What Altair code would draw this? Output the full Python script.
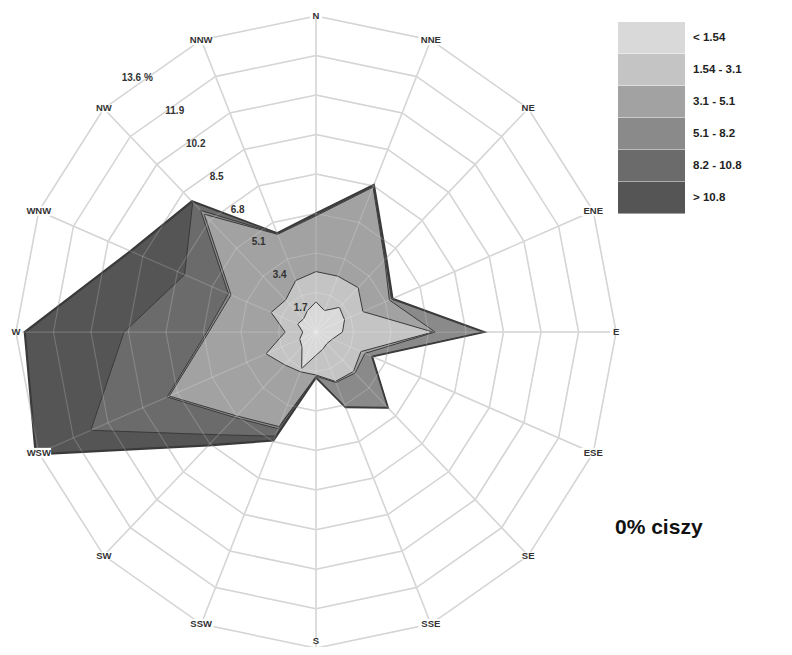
import altair as alt
import pandas as pd

directions = ["N", "NNE", "NE", "ENE", "E", "ESE", "SE", "SSE",
              "S", "SSW", "SW", "WSW", "W", "WNW", "NW", "NNW"]
classes = ["< 1.54", "1.54 - 3.1", "3.1 - 5.1", "5.1 - 8.2", "8.2 - 10.8", "> 10.8"]
colors = ["#d9d9d9", "#c4c4c4", "#a2a2a2", "#8a8a8a", "#6b6b6b", "#555555"]

# cumulative frequency (%) per direction, up to and including each speed class
cum_1 = [1.3, 1.0, 1.5, 1.4, 1.2, 0.8, 0.7, 0.8, 1.0, 1.7, 0.9, 0.8, 0.6, 0.9, 0.8, 1.0]
cum_2 = [2.6, 2.6, 2.7, 2.3, 5.3, 2.2, 2.4, 2.3, 1.85, 1.85, 2.0, 2.45, 1.4, 2.2, 1.95, 2.4]
cum_3 = [5.0, 6.75, 4.4, 3.6, 5.4, 2.4, 2.5, 2.35, 1.9, 4.4, 5.1, 7.2, 4.86, 4.17, 7.17, 4.55]
cum_4 = [5.05, 6.8, 4.45, 3.7, 7.55, 2.72, 4.58, 3.48, 1.92, 4.5, 5.2, 7.3, 4.95, 4.3, 7.4, 4.58]
cum_5 = [5.08, 6.83, 4.48, 3.73, 7.58, 2.74, 4.6, 3.5, 1.94, 4.85, 6.25, 11.05, 8.7, 6.45, 7.9, 4.6]
cum_6 = [5.1, 6.85, 4.5, 3.75, 7.6, 2.75, 4.6, 3.5, 1.95, 5.05, 6.9, 13.75, 13.2, 9.1, 7.95, 4.6]
cumulative = [cum_1, cum_2, cum_3, cum_4, cum_5, cum_6]

ring_values = [1.7, 3.4, 5.1, 6.8, 8.5, 10.2, 11.9, 13.6]
ring_labels = ["1.7", "3.4", "5.1", "6.8", "8.5", "10.2", "11.9", "13.6 %"]
calm_text = "0% ciszy"

# ---- tables built from the lists above
rose_rows = []
for k, (cls, vals) in enumerate(zip(classes, cumulative)):
    for d, v in enumerate(vals):
        rose_rows.append({"cls": cls, "k": k, "dir": d, "value": v})
rose = pd.DataFrame(rose_rows)

ring_rows = []
for rv in ring_values:
    for d in range(len(directions)):
        ring_rows.append({"ring": rv, "dir": d})
rings = pd.DataFrame(ring_rows)

dirs = pd.DataFrame({"dir": list(range(len(directions))), "label": directions})
ring_lab = pd.DataFrame({"ring": ring_values, "label": ring_labels})

OUTER = ring_values[-1]
xscale = alt.Scale(domain=[-13.96, 21.21], nice=False, zero=False)
yscale = alt.Scale(domain=[-13.55, 13.94], nice=False, zero=False)
X = alt.X("px:Q", scale=xscale, axis=None)
Y = alt.Y("py:Q", scale=yscale, axis=None)

def polar(chart, rfield):
    return chart.transform_calculate(
        theta="datum.dir * PI / 8"
    ).transform_calculate(
        px=f"{rfield} * sin(datum.theta)",
        py=f"{rfield} * cos(datum.theta)",
    )

# grid
grid_rings = polar(alt.Chart(rings), "datum.ring").mark_line(
    interpolate="linear-closed", stroke="#cdcdcd", strokeWidth=1.5
).encode(x=X, y=Y, detail="ring:N", order="dir:Q")
spokes = polar(alt.Chart(dirs), str(OUTER)).transform_calculate(zero="0").mark_rule(
    stroke="#cdcdcd", strokeWidth=1.5
).encode(
    x=alt.X("zero:Q", scale=xscale, axis=None),
    y=alt.Y("zero:Q", scale=yscale, axis=None),
    x2="px:Q", y2="py:Q",
)
grid_top_r = polar(alt.Chart(rings), "datum.ring").mark_line(
    interpolate="linear-closed", stroke="#ffffff", strokeWidth=1.2, opacity=0.18
).encode(x=X, y=Y, detail="ring:N", order="dir:Q")
grid_top_s = polar(alt.Chart(dirs), str(OUTER)).transform_calculate(zero="0").mark_rule(
    stroke="#ffffff", strokeWidth=1.2, opacity=0.18
).encode(
    x=alt.X("zero:Q", scale=xscale, axis=None),
    y=alt.Y("zero:Q", scale=yscale, axis=None),
    x2="px:Q", y2="py:Q",
)

legend = alt.Legend(
    title=None, orient="none", legendX=610, legendY=14, padding=0,
    symbolType="M-1,-0.473H1V0.473H-1Z", symbolSize=4489,
    symbolStrokeWidth=0, symbolOpacity=1, rowPadding=0, clipHeight=31.7,
    labelFont="Liberation Sans", labelFontWeight="bold", labelFontSize=11.5,
    labelColor="#222222", labelOffset=8, labelLimit=200,
)

polys = []
for k in reversed(range(len(classes))):
    polys.append(
        polar(alt.Chart(rose).transform_filter(f"datum.k == {k}"), "datum.value").mark_line(
            interpolate="linear-closed",
            stroke="#3a3a3a",
            strokeWidth=2.2 if k == len(classes) - 1 else 1.0,
            strokeJoin="miter",
        ).encode(
            x=X, y=Y, order="dir:Q",
            fill=alt.Fill("cls:N", scale=alt.Scale(domain=classes, range=colors), legend=legend),
        )
    )

# direction labels (slightly pulled in for S so it stays on the page)
dir_base = polar(alt.Chart(dirs), "(datum.dir == 8 ? 13.3 : 13.6)").transform_calculate(
    box="pow(6.2 * length(datum.label) + 6, 2)"
)
dir_bg = dir_base.mark_point(
    shape="M-1,-0.42H1V0.42H-1Z", filled=True, fill="white", strokeWidth=0, opacity=1
).encode(x=X, y=Y, size=alt.Size("box:Q", scale=None, legend=None))
dir_text = dir_base.mark_text(
    font="Liberation Sans", fontWeight="bold", fontSize=9.5, color="#333333",
    align="center", baseline="middle",
).encode(x=X, y=Y, text="label:N")

ring_text = alt.Chart(ring_lab).transform_calculate(
    rr="datum.ring == 13.6 ? 13.62 : datum.ring - 0.45",
    ang="(datum.ring == 13.6 ? -36.5 : -34) * PI / 180",
).transform_calculate(
    px="datum.rr * sin(datum.ang)", py="datum.rr * cos(datum.ang)"
).mark_text(
    font="Liberation Sans", fontWeight="bold", fontSize=10, color="#333333",
    align="center", baseline="middle",
).encode(x=X, y=Y, text="label:N")

calm = alt.Chart(pd.DataFrame({"t": [calm_text]})).mark_text(
    font="Liberation Sans", fontWeight="bold", fontSize=21, color="#111111",
    align="left", baseline="middle",
).encode(x=alt.value(607), y=alt.value(520), text="t:N")

chart = alt.layer(
    grid_rings, spokes, *polys, grid_top_r, grid_top_s, dir_bg, dir_text, ring_text, calm
).properties(
    width=776, height=639, padding=0,
    autosize=alt.AutoSizeParams(type="none"),
).configure_view(stroke=None)

chart.save("out.html", embed_options={"renderer": "svg", "actions": False})
